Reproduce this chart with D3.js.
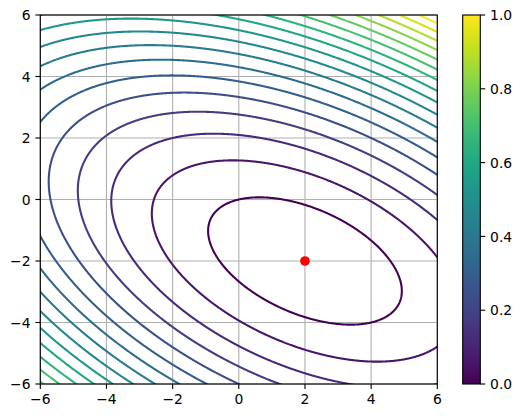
<!DOCTYPE html>
<html><head><meta charset="utf-8">
<script src="https://cdn.jsdelivr.net/npm/d3@7"></script>
<style>body{margin:0;background:#fff} svg{display:block} text{font-family:"DejaVu Sans",sans-serif;font-size:13.9px;fill:#000}</style>
</head><body>
<script>
// ---- data ----
const xTicks = [-6, -4, -2, 0, 2, 4, 6];
const yTicks = [-6, -4, -2, 0, 2, 4, 6];
const levels = [0, 15, 30, 45, 60, 75, 90, 105, 120, 135, 150, 165, 180, 195, 210, 225, 240, 255];
const matrixA = [[3, 2], [2, 6]];
const vectorB = [2, -8];
const minPoint = [2, -2];
const cbarTicks = [0, 0.2, 0.4, 0.6, 0.8, 1.0];
const domainX = [-6, 6], domainY = [-6, 6];

// ---- layout ----
const W = 522, H = 418;
const L = 40.3, R = 437.3, T = 15, B = 384;
const svg = d3.select("body").append("svg").attr("width", W).attr("height", H);
const x = d3.scaleLinear().domain(domainX).range([L, R]);
const y = d3.scaleLinear().domain(domainY).range([B, T]);
const lw = 1.11, tickLen = 4.9, pad = 4.9;

function f(px, py) {
  return 0.5 * (matrixA[0][0] * px * px + 2 * matrixA[0][1] * px * py + matrixA[1][1] * py * py)
    - (vectorB[0] * px + vectorB[1] * py);
}

// clip
svg.append("defs").append("clipPath").attr("id", "clip")
  .append("rect").attr("x", L).attr("y", T).attr("width", R - L).attr("height", B - T);

// grid
const grid = svg.append("g").attr("stroke", "#b0b0b0").attr("stroke-width", lw);
xTicks.forEach(v => grid.append("line").attr("x1", x(v)).attr("x2", x(v)).attr("y1", T).attr("y2", B));
yTicks.forEach(v => grid.append("line").attr("y1", y(v)).attr("y2", y(v)).attr("x1", L).attr("x2", R));

// contours
const g0 = -6.3, step = 0.02, n = Math.round(12.6 / step) + 1;
const values = new Float64Array(n * n);
for (let j = 0; j < n; j++) for (let i = 0; i < n; i++) values[j * n + i] = f(g0 + i * step, g0 + j * step);
const contours = d3.contours().size([n, n]).thresholds(levels)(values);
const proj = d3.geoTransform({ point: function (px, py) {
  this.stream.point(x(g0 + (px - 0.5) * step), y(g0 + (py - 0.5) * step));
}});
const path = d3.geoPath(proj);
const color = d3.scaleSequential(d3.interpolateViridis).domain([levels[0], levels[levels.length - 1]]);
svg.append("g").attr("clip-path", "url(#clip)")
  .selectAll("path").data(contours).join("path")
  .attr("d", path).attr("fill", "none")
  .attr("stroke", d => color(d.value)).attr("stroke-width", 2.08);

// minimum point
svg.append("circle").attr("cx", x(minPoint[0])).attr("cy", y(minPoint[1])).attr("r", 4.85).attr("fill", "#ff0000");

// spines
svg.append("rect").attr("x", L).attr("y", T).attr("width", R - L).attr("height", B - T)
  .attr("fill", "none").attr("stroke", "#000").attr("stroke-width", lw);

// ticks
const fmt = d3.format("d");
xTicks.forEach(v => {
  svg.append("line").attr("x1", x(v)).attr("x2", x(v)).attr("y1", B).attr("y2", B + tickLen).attr("stroke", "#000").attr("stroke-width", lw);
  svg.append("text").attr("x", x(v)).attr("y", B + tickLen + pad + 10.2).attr("text-anchor", "middle").text(fmt(v));
});
yTicks.forEach(v => {
  svg.append("line").attr("y1", y(v)).attr("y2", y(v)).attr("x1", L - tickLen).attr("x2", L).attr("stroke", "#000").attr("stroke-width", lw);
  svg.append("text").attr("x", L - tickLen - pad).attr("y", y(v) + 5.1).attr("text-anchor", "end").text(fmt(v));
});

// colorbar
const cbL = 462.7, cbW = 17.6;
const cy = d3.scaleLinear().domain([0, 1]).range([B, T]);
const grad = svg.select("defs").append("linearGradient").attr("id", "vir")
  .attr("x1", 0).attr("y1", 1).attr("x2", 0).attr("y2", 0);
d3.range(0, 1.0001, 0.02).forEach(t => grad.append("stop").attr("offset", t).attr("stop-color", d3.interpolateViridis(t)));
svg.append("rect").attr("x", cbL).attr("y", T).attr("width", cbW).attr("height", B - T).attr("fill", "url(#vir)");
svg.append("rect").attr("x", cbL).attr("y", T).attr("width", cbW).attr("height", B - T)
  .attr("fill", "none").attr("stroke", "#000").attr("stroke-width", lw);
const cfmt = d3.format(".1f");
cbarTicks.forEach(v => {
  svg.append("line").attr("x1", cbL + cbW).attr("x2", cbL + cbW + tickLen).attr("y1", cy(v)).attr("y2", cy(v)).attr("stroke", "#000").attr("stroke-width", lw);
  svg.append("text").attr("x", cbL + cbW + tickLen + pad).attr("y", cy(v) + 5.1).attr("text-anchor", "start").text(cfmt(v));
});
</script>
</body></html>
